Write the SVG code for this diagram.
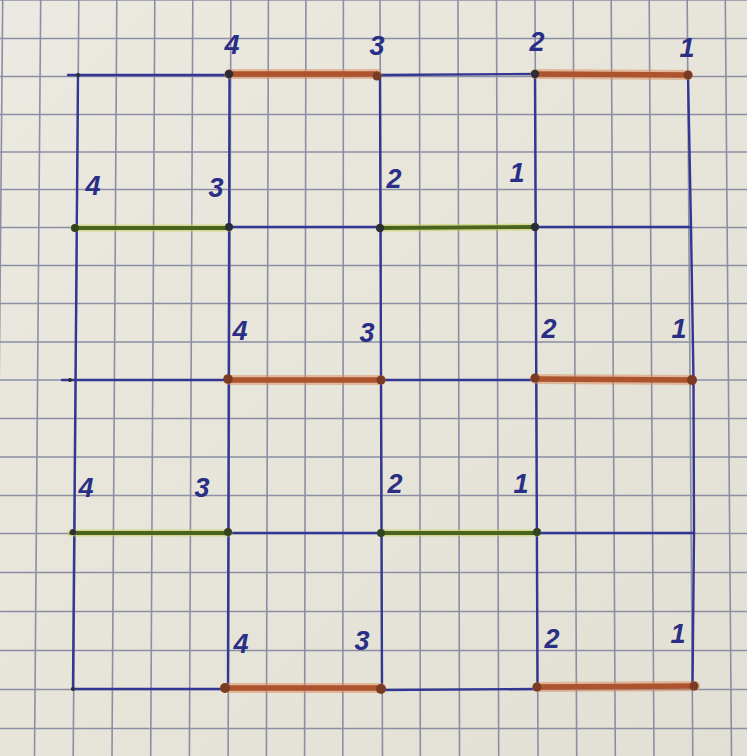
<svg xmlns="http://www.w3.org/2000/svg" width="747" height="756" viewBox="0 0 747 756">
<defs>
<linearGradient id="paperG" x1="0" y1="0" x2="1" y2="1">
<stop offset="0" stop-color="#ebe9e1"/>
<stop offset="0.5" stop-color="#e7e4d9"/>
<stop offset="1" stop-color="#e2dfd4"/>
</linearGradient>
</defs>
<style>
.grid{stroke:#8b8ea4;stroke-width:1.6;fill:none}
.pen{stroke:#313792;stroke-width:2.4;fill:none;stroke-linecap:round}
.orH{stroke:#d9895a;stroke-width:10;stroke-opacity:0.5;fill:none;stroke-linecap:round}
.or{stroke:#ad532e;stroke-width:5.5;fill:none;stroke-linecap:round}
.grH{stroke:#c8d05e;stroke-width:7;stroke-opacity:0.6;fill:none;stroke-linecap:round}
.gr{stroke:#4a6420;stroke-width:3.8;fill:none;stroke-linecap:round}
.dot{fill:#2c2e36}
.dotO{fill:#7a3b24}
.dotG{fill:#34431f}
.lbl{font-family:"Liberation Sans",Arial,sans-serif;font-size:27px;font-style:italic;font-weight:bold;fill:#2a2f86;text-anchor:middle}
</style>
<rect width="747" height="756" fill="url(#paperG)"/>
<g id="paper-grid" class="grid">
<path d="M2.7 0L-4.2 756M40.7 0L34.5 756M78.8 0L73.2 756M116.8 0L112 756M154.8 0L150.7 756M192.8 0L189.4 756M230.9 0L228.1 756M268.4 0L266.4 756M305.9 0L304.6 756M343.4 0L342.8 756M380 0L382.5 756M419.5 0L420.3 756M458 0L459.5 756M496.5 0L498.7 756M535 0L538 756M573.2 0L576.7 756M611.2 0L615.3 756M649.2 0L654 756M687.2 0L692.8 756M725.3 0L731.5 756"/>
<path d="M0 0H747M0 38.5H747M0 76.5H747M0 114.5H747M0 152H747M0 189.5H747M0 227.5H747M0 265.5H747M0 303.5H747M0 342H747M0 380H747M0 418.5H747M0 457H747M0 495.5H747M0 533.5H747M0 572.5H747M0 611.5H747M0 650.5H747M0 689.5H747M0 728.5H747"/>
</g>
<g id="connectors">
<g id="frame" class="pen">
<path d="M78 74L73 689"/>
<path d="M229.5 74L228 688"/>
<path d="M380 75L382 689"/>
<path d="M535 74L537.5 688"/>
<path d="M688 75L691 227L693.5 380L694 533L692.5 687"/>
<path d="M68 75H229M377 75L535 74"/>
<path d="M229 227H380M535 227H690"/>
<path d="M62 380H229M381 380H535"/>
<path d="M229 533H380M537 533H694"/>
<path d="M72 689H225M381 690L537 689"/>
</g>
<g id="orange-segments">
<path class="orH" d="M229 74H377M535 74L688 75"/>
<path class="or" d="M229 74H377M535 74L688 75"/>
<path class="orH" d="M229 380H381M535 379L692 380"/>
<path class="or" d="M229 380H381M535 379L692 380"/>
<path class="orH" d="M225 688H381M537 687L695 686"/>
<path class="or" d="M225 688H381M537 687L695 686"/>
</g>
<g id="green-segments">
<path class="grH" d="M74 228H229M380 228L535 227"/>
<path class="gr" d="M74 228H229M380 228L535 227"/>
<path class="grH" d="M71 533H229M381 533H537"/>
<path class="gr" d="M71 533H229M381 533H537"/>
</g>
</g>
<g id="row1">
<circle class="dot" cx="78" cy="75" r="2"/>
<circle class="dot" cx="229" cy="74" r="4.2"/>
<circle class="dotO" cx="377" cy="76" r="4.5"/>
<circle class="dot" cx="535" cy="74" r="4.2"/>
<circle class="dotO" cx="688" cy="75" r="4.5"/>
<text class="lbl" x="232" y="54">4</text>
<text class="lbl" x="377" y="55">3</text>
<text class="lbl" x="537" y="51">2</text>
<text class="lbl" x="687" y="57">1</text>
</g>
<g id="row2">
<circle class="dotG" cx="75" cy="228" r="4"/>
<circle class="dot" cx="229" cy="227" r="4"/>
<circle class="dot" cx="380" cy="228" r="4.2"/>
<circle class="dot" cx="535" cy="227" r="4.2"/>
<text class="lbl" x="93" y="195">4</text>
<text class="lbl" x="216" y="197">3</text>
<text class="lbl" x="394" y="188">2</text>
<text class="lbl" x="517" y="182">1</text>
</g>
<g id="row3">
<circle class="dot" cx="70" cy="380" r="2"/>
<circle class="dotO" cx="228" cy="379" r="4.8"/>
<circle class="dotO" cx="381" cy="380" r="4.5"/>
<circle class="dotO" cx="535" cy="378" r="4.5"/>
<circle class="dotO" cx="692" cy="380" r="5"/>
<text class="lbl" x="240" y="340">4</text>
<text class="lbl" x="367" y="342">3</text>
<text class="lbl" x="549" y="338">2</text>
<text class="lbl" x="679" y="338">1</text>
</g>
<g id="row4">
<circle class="dot" cx="73" cy="532" r="3"/>
<circle class="dotG" cx="228" cy="532" r="4"/>
<circle class="dotG" cx="381" cy="533" r="4"/>
<circle class="dotG" cx="537" cy="532" r="4"/>
<text class="lbl" x="86" y="497">4</text>
<text class="lbl" x="202" y="497">3</text>
<text class="lbl" x="395" y="493">2</text>
<text class="lbl" x="521" y="493">1</text>
</g>
<g id="row5">
<circle class="dot" cx="73" cy="689" r="2"/>
<circle class="dotO" cx="225" cy="688" r="5"/>
<circle class="dotO" cx="381" cy="689" r="5"/>
<circle class="dotO" cx="537" cy="687" r="4.5"/>
<circle class="dotO" cx="694" cy="686" r="4.5"/>
<text class="lbl" x="241" y="653">4</text>
<text class="lbl" x="362" y="650">3</text>
<text class="lbl" x="552" y="648">2</text>
<text class="lbl" x="678" y="643">1</text>
</g>
</svg>
